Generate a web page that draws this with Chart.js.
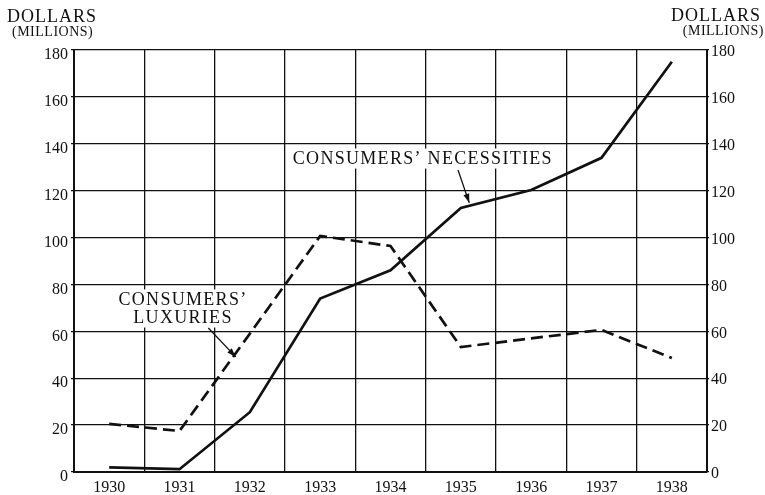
<!DOCTYPE html>
<html><head><meta charset="utf-8">
<script src="https://cdn.jsdelivr.net/npm/chart.js@4"></script>
<style>html,body{margin:0;padding:0;background:#fff}canvas{display:block}</style>
</head><body>
<canvas id="c" width="765" height="495"></canvas>
<script>
const years = ['1930','1931','1932','1933','1934','1935','1936','1937','1938'];
const necessities = [2, 1.2, 25.5, 74, 86, 112.6, 120.3, 134, 175];
const luxuries = [20.5, 17.5, 59, 100.7, 96.4, 53.3, 57, 60.6, 48.6];
const yMin = 0, yMax = 180, yStep = 20;
const axisTitle = ['DOLLARS', '(MILLIONS)'];
// annotation text and pointer positions in data units (category index, value)
const necLabel = {lines:['CONSUMERS\u2019 NECESSITIES'], x:4.46, y:[133.7], from:[4.96,128.8], to:[5.12,114.8]};
const luxLabel = {lines:['CONSUMERS\u2019','LUXURIES'], x:1.05, y:[73.6,65.9], from:[1.41,61.4], to:[1.80,49.1]};

const FONT = "'Liberation Serif','DejaVu Serif',serif";
const INK = '#111';

const notesPlugin = {
  id:'notes',
  afterDatasetsDraw(chart){
    const {ctx, scales:{x,y}} = chart;
    const x0 = x.getPixelForValue(0), dx = x.getPixelForValue(1) - x0;
    const px = i => x0 + i*dx;
    const py = v => y.getPixelForValue(v);
    ctx.save();
    ctx.font = '18px ' + FONT;
    ctx.letterSpacing = '1.3px';
    ctx.textAlign = 'center';
    ctx.textBaseline = 'middle';
    for (const lab of [necLabel, luxLabel]) {
      lab.lines.forEach((t, k) => {
        const cx = px(lab.x), cy = py(lab.y[k]);
        const w = ctx.measureText(t).width;
        ctx.fillStyle = '#fff';
        ctx.fillRect(cx - w/2 - 4, cy - 10, w + 8, 20);
      });
      lab.lines.forEach((t, k) => {
        ctx.fillStyle = INK;
        ctx.fillText(t, px(lab.x), py(lab.y[k]) + 1);
      });
      // pointer
      const ax = px(lab.from[0]), ay = py(lab.from[1]);
      const bx = px(lab.to[0]), by = py(lab.to[1]);
      ctx.strokeStyle = INK; ctx.lineWidth = 1.3;
      ctx.beginPath(); ctx.moveTo(ax, ay); ctx.lineTo(bx, by); ctx.stroke();
      const ang = Math.atan2(by - ay, bx - ax), L = 9, H = 3;
      ctx.fillStyle = INK;
      ctx.beginPath();
      ctx.moveTo(bx, by);
      ctx.lineTo(bx - L*Math.cos(ang) + H*Math.sin(ang), by - L*Math.sin(ang) - H*Math.cos(ang));
      ctx.lineTo(bx - L*Math.cos(ang) - H*Math.sin(ang), by - L*Math.sin(ang) + H*Math.cos(ang));
      ctx.closePath(); ctx.fill();
    }
    ctx.restore();
  },
  afterDraw(chart){
    const ctx = chart.ctx;
    ctx.save();
    ctx.fillStyle = INK;
    ctx.textBaseline = 'alphabetic';
    ctx.letterSpacing = '1px';
    ctx.font = '18px ' + FONT;
    ctx.textAlign = 'left';
    ctx.fillText(axisTitle[0], 7, 22);
    ctx.textAlign = 'right';
    ctx.fillText(axisTitle[0], 761, 21);
    ctx.letterSpacing = '0.5px';
    ctx.font = '14px ' + FONT;
    ctx.textAlign = 'left';
    ctx.fillText(axisTitle[1], 12, 36);
    ctx.textAlign = 'right';
    ctx.fillText(axisTitle[1], 764, 35);
    ctx.restore();
  }
};

const tickFont = {family: FONT, size: 16};
new Chart(document.getElementById('c'), {
  type: 'line',
  data: {
    labels: years,
    datasets: [
      {label:'Consumers\u2019 necessities', data: necessities, borderColor: INK, borderWidth: 2.7, pointRadius: 0, tension: 0, fill: false, yAxisID: 'y'},
      {label:'Consumers\u2019 luxuries', data: luxuries, borderColor: INK, borderWidth: 2.7, borderDash: [12, 6], pointRadius: 0, tension: 0, fill: false, yAxisID: 'y'}
    ]
  },
  options: {
    responsive: false,
    animation: false,
    layout: {padding: {top: 50, left: 0, right: 0, bottom: 0}},
    plugins: {legend: {display: false}, tooltip: {enabled: false}},
    scales: {
      x: {
        offset: true,
        grid: {offset: true, color: INK, lineWidth: 1.3, drawTicks: false},
        border: {color: INK, width: 2},
        ticks: {color: INK, font: tickFont, padding: 6, maxRotation: 0, autoSkip: false},
        afterFit(s){ s.height = 23; }
      },
      y: {
        position: 'left', min: yMin, max: yMax,
        grid: {color: INK, lineWidth: 1.3, tickLength: 3},
        border: {color: INK, width: 2},
        ticks: {stepSize: yStep, color: INK, font: tickFont, padding: 3, labelOffset: 5},
        afterFit(s){ s.width = 74; }
      },
      y2: {
        position: 'right', min: yMin, max: yMax,
        grid: {drawOnChartArea: false, color: INK, lineWidth: 1.3, tickLength: 2},
        border: {color: INK, width: 2},
        ticks: {stepSize: yStep, color: INK, font: tickFont, padding: 2, labelOffset: 2},
        afterFit(s){ s.width = 58; }
      }
    }
  },
  plugins: [notesPlugin]
});
</script>
</body></html>
